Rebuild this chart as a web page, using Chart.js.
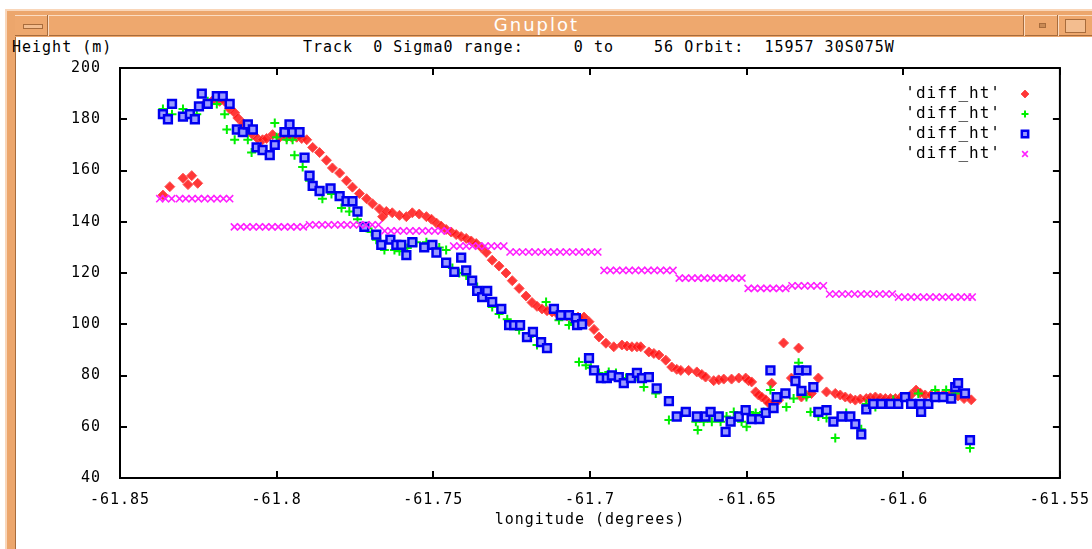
<!DOCTYPE html>
<html lang="en">
<head>
<meta charset="UTF-8" />
<title>Gnuplot</title>
<script src="https://cdn.jsdelivr.net/npm/chart.js"></script>
<style>
  body { margin: 0; width: 1092px; height: 549px; overflow: hidden; position: relative; background: #fff; font-family: "DejaVu Sans Mono", monospace; }
  .frame { position: absolute; left: 5px; top: 9px; width: 1100px; height: 560px; background: #eca66c; border-top: 2px solid #f9d6b9; border-left: 2px solid #f9d6b9; box-sizing: border-box; }
  .titlebar { position: absolute; left: 15px; top: 15px; width: 1100px; height: 21px; background: #eea86e; border-top: 1px solid #fbdcc2; border-bottom: 1px solid #a86c3c; box-sizing: border-box; }
  .title { position: absolute; left: 48px; width: 977px; top: 14px; height: 22px; line-height: 22px; text-align: center; color: #fff; font-family: "DejaVu Sans", sans-serif; font-size: 18px; letter-spacing: 2px; }
  .sep { position: absolute; top: 15px; height: 21px; width: 1px; background: #fbdcc2; border-left: 1px solid #a86c3c; }
  .btn { position: absolute; border: 1px solid #a86c3c; background: #f3bd8f; box-sizing: border-box; }
  .content { position: absolute; left: 15px; top: 37px; width: 1100px; height: 520px; background: #fff; border-left: 1px solid #a86c3c; box-sizing: border-box; }
  .hdr { position: absolute; top: 39px; font-size: 15px; letter-spacing: 1px; white-space: pre; line-height: 16px; color: #000; }
  canvas { position: absolute; left: 0; top: 0; }
</style>
</head>
<body>
  <div class="frame"></div>
  <div class="titlebar"></div>
  <div class="sep" style="left:47px"></div>
  <div class="sep" style="left:1023px"></div>
  <div class="sep" style="left:1057px"></div>
  <div class="btn" style="left:23px; top:24px; width:20px; height:5px;"></div>
  <div class="btn" style="left:1039px; top:23px; width:7px; height:5px; background:#c98a55;"></div>
  <div class="btn" style="left:1065px; top:19px; width:21px; height:14px;"></div>
  <div class="title">Gnuplot</div>
  <div class="content"></div>
  <div class="hdr" style="left:12px">Height (m)</div>
  <div class="hdr" style="left:303px">Track  0 Sigma0 range:     0 to    56 Orbit:  15957 30S075W</div>

  <canvas id="plot" width="1092" height="549"></canvas>

  <script>
    const seriesLabels = ["'diff_ht'", "'diff_ht'", "'diff_ht'", "'diff_ht'"];
    const xTicks = [-61.85, -61.8, -61.75, -61.7, -61.65, -61.6, -61.55];
    const yTicks = [40, 60, 80, 100, 120, 140, 160, 180, 200];

    // red diamonds
    const redLon = [-61.8363, -61.8341, -61.8299, -61.8283, -61.8271, -61.8252, -61.8229, -61.8207, -61.8182, -61.8166,
      -61.8150, -61.8134, -61.8124, -61.8108, -61.8092, -61.8076, -61.8061, -61.8045, -61.8032, -61.8013,
      -61.7990, -61.7968, -61.7952, -61.7936, -61.7920, -61.7904, -61.7885, -61.7863, -61.7841, -61.7822,
      -61.7799, -61.7777, -61.7758, -61.7736, -61.7713, -61.7694, -61.7672, -61.7662, -61.7650, -61.7631,
      -61.7608, -61.7586, -61.7567, -61.7545, -61.7522, -61.7506, -61.7490, -61.7475, -61.7459, -61.7443,
      -61.7427, -61.7411, -61.7395, -61.7379, -61.7363, -61.7347, -61.7331, -61.7312, -61.7290, -61.7268,
      -61.7248, -61.7226, -61.7204, -61.7185, -61.7169, -61.7153, -61.7137, -61.7121, -61.7105, -61.7089,
      -61.7073, -61.7057, -61.7038, -61.7019, -61.7003, -61.6987, -61.6971, -61.6949, -61.6924, -61.6898,
      -61.6882, -61.6866, -61.6850, -61.6838, -61.6812, -61.6796, -61.6780, -61.6758, -61.6739, -61.6723,
      -61.6710, -61.6685, -61.6659, -61.6643, -61.6631, -61.6605, -61.6589, -61.6573, -61.6548, -61.6525,
      -61.6503, -61.6494, -61.6484, -61.6471, -61.6462, -61.6452, -61.6439, -61.6430, -61.6420, -61.6411,
      -61.6398, -61.6382, -61.6357, -61.6334, -61.6325, -61.6309, -61.6293, -61.6271, -61.6245, -61.6217,
      -61.6201, -61.6185, -61.6169, -61.6153, -61.6137, -61.6118, -61.6105, -61.6089, -61.6073, -61.6057,
      -61.6041, -61.6025, -61.6010, -61.5994, -61.5975, -61.5959, -61.5946, -61.5930, -61.5911, -61.5889,
      -61.5869, -61.5847, -61.5825, -61.5806, -61.5783];
    const redHt = [150.4, 153.7, 157.0, 154.5, 158.0, 155.0, 186.0, 187.0, 187.0, 187.0,
      184.0, 182.5, 180.5, 178.5, 176.5, 174.0, 172.5, 172.0, 172.5, 174.0,
      173.0, 173.0, 173.0, 173.0, 172.5, 172.0, 169.0, 167.0, 164.0, 161.0,
      159.0, 156.0, 153.5, 151.0, 149.0, 147.0, 145.0, 142.0, 144.0, 143.5,
      142.5, 142.0, 143.5, 143.0, 142.0, 141.0, 139.5, 138.3, 137.0, 136.0,
      135.0, 134.2, 133.5, 132.5, 131.5, 130.0, 128.0, 125.0, 122.7, 120.0,
      117.0, 114.0, 111.0, 108.5, 107.0, 106.0, 105.3, 104.8, 104.2, 103.6,
      103.2, 102.6, 102.8, 102.8, 101.0, 98.0, 95.0, 92.6, 91.2, 91.9,
      91.5, 91.2, 91.2, 91.2, 89.2, 88.6, 88.0, 86.0, 83.3, 82.4,
      82.0, 82.0, 81.4, 80.4, 79.4, 78.0, 78.3, 78.6, 78.6, 79.0,
      79.0, 78.0, 77.5, 73.6, 72.4, 71.6, 70.5, 69.3, 77.0, 69.7,
      70.4, 92.7, 79.0, 90.7, 71.6, 72.4, 73.0, 79.0, 73.6, 73.0,
      72.4, 71.6, 71.0, 70.4, 70.8, 71.0, 71.3, 71.6, 71.2, 71.0,
      71.0, 71.0, 71.3, 71.6, 72.5, 74.3, 73.2, 72.4, 72.4, 72.4,
      72.8, 73.0, 72.0, 71.0, 70.5];

    // green pluses
    const greenLon = [-61.8363, -61.8334, -61.8299, -61.8255, -61.8220, -61.8191, -61.8166, -61.8159, -61.8134, -61.8092,
      -61.8080, -61.8006, -61.8000, -61.7968, -61.7949, -61.7943, -61.7917, -61.7895, -61.7854, -61.7825,
      -61.7793, -61.7768, -61.7742, -61.7713, -61.7697, -61.7682, -61.7669, -61.7656, -61.7624, -61.7608,
      -61.7583, -61.7554, -61.7522, -61.7481, -61.7459, -61.7439, -61.7417, -61.7395, -61.7360, -61.7338,
      -61.7312, -61.7290, -61.7264, -61.7226, -61.7194, -61.7169, -61.7140, -61.7099, -61.7067, -61.7051,
      -61.7035, -61.7013, -61.6997, -61.6971, -61.6940, -61.6917, -61.6885, -61.6854, -61.6828, -61.6790,
      -61.6748, -61.6707, -61.6662, -61.6656, -61.6637, -61.6611, -61.6583, -61.6564, -61.6541, -61.6516,
      -61.6500, -61.6490, -61.6471, -61.6446, -61.6424, -61.6389, -61.6373, -61.6350, -61.6334, -61.6309,
      -61.6296, -61.6271, -61.6245, -61.6217, -61.6182, -61.6134, -61.6118, -61.6089, -61.6032, -61.5952,
      -61.5898, -61.5863, -61.5834, -61.5787];
    const greenHt = [184, 182, 184, 182, 187, 186, 182, 176, 172, 172,
      167, 178.5, 173, 172, 172, 166, 161.4, 156, 149, 150.8,
      145.4, 144, 141, 137.6, 136, 133, 131.7, 129, 129, 128.5,
      129.8, 132, 132, 130, 129, 122, 120, 119, 114.5, 111.4,
      106.7, 104, 102, 97.8, 95, 91.9, 108.7, 101.6, 99.7, 100.5,
      85.3, 84, 83, 81, 81.4, 81, 79, 79.4, 75.5, 73,
      62.6, 65.4, 62, 58.7, 62, 62, 62, 64, 65.8, 62,
      60, 65.8, 65.4, 65.8, 74.3, 72.4, 67.7, 71, 85, 71.6,
      65.8, 64, 63.4, 55.6, 65.4, 59, 68.9, 67.7, 70.4, 73,
      74.3, 74.3, 73, 51.7];

    // blue squares
    const blueLon = [-61.8363, -61.8347, -61.8334, -61.8299, -61.8277, -61.8261, -61.8248, -61.8239, -61.8220, -61.8191,
      -61.8172, -61.8150, -61.8127, -61.8108, -61.8092, -61.8076, -61.8064, -61.8045, -61.8022, -61.8006,
      -61.7975, -61.7959, -61.7949, -61.7927, -61.7911, -61.7895, -61.7885, -61.7863, -61.7828, -61.7799,
      -61.7777, -61.7758, -61.7742, -61.7720, -61.7682, -61.7666, -61.7637, -61.7618, -61.7602, -61.7586,
      -61.7567, -61.7529, -61.7503, -61.7490, -61.7459, -61.7433, -61.7411, -61.7395, -61.7376, -61.7360,
      -61.7344, -61.7328, -61.7312, -61.7283, -61.7258, -61.7242, -61.7223, -61.7201, -61.7182, -61.7156,
      -61.7137, -61.7115, -61.7093, -61.7067, -61.7045, -61.7041, -61.7025, -61.7003, -61.6987, -61.6965,
      -61.6946, -61.6930, -61.6908, -61.6892, -61.6869, -61.6850, -61.6834, -61.6812, -61.6787, -61.6748,
      -61.6723, -61.6694, -61.6659, -61.6631, -61.6615, -61.6589, -61.6567, -61.6551, -61.6525, -61.6503,
      -61.6484, -61.6459, -61.6439, -61.6424, -61.6414, -61.6404, -61.6376, -61.6344, -61.6334, -61.6325,
      -61.6309, -61.6287, -61.6271, -61.6245, -61.6223, -61.6197, -61.6169, -61.6153, -61.6134, -61.6118,
      -61.6096, -61.6070, -61.6041, -61.6016, -61.5994, -61.5975, -61.5946, -61.5943, -61.5920, -61.5898,
      -61.5873, -61.5847, -61.5834, -61.5825, -61.5803, -61.5787];
    const blueHt = [182, 180, 186, 181, 182, 180, 185, 190, 186, 189,
      189, 186, 176, 175, 178, 176, 169, 168, 166, 170,
      175, 178, 175, 175, 165, 158, 154, 152, 153, 150,
      148, 148, 144, 138, 135, 131, 133, 131, 131, 127,
      132, 130, 131, 128, 124, 120.4, 126, 121, 117, 113,
      110.6, 113, 108.7, 106, 99.7, 99.7, 99.7, 95, 97, 93,
      90.7, 106, 103.6, 103.6, 102.4, 99.7, 100, 86.8, 82, 79,
      79, 80, 79.4, 77, 79, 81, 79, 79.4, 75, 70,
      64, 65.8, 64, 64, 65.8, 64, 58, 62, 64, 66.5,
      63, 63, 65.4, 82, 67.3, 71.6, 73, 77.8, 82, 74,
      82, 75.5, 65.8, 66.5, 62, 64, 64, 61, 57, 66.8,
      68.9, 68.9, 68.9, 68.9, 71.6, 68.9, 68.9, 65.8, 68.9, 71.6,
      71.6, 71, 75.5, 77, 73, 54.8];

    // magenta crosses
    const magLon = [-61.8373, -61.8355, -61.8335, -61.8310, -61.8290, -61.8270, -61.8250, -61.8230, -61.8210, -61.8190, -61.8170, -61.8150,
      -61.8135, -61.8115, -61.8095, -61.8075, -61.8055, -61.8035, -61.8015, -61.7995, -61.7975, -61.7955, -61.7935, -61.7915,
      -61.7895, -61.7875, -61.7855, -61.7835, -61.7815, -61.7795, -61.7775, -61.7755, -61.7735, -61.7715, -61.7695, -61.7675,
      -61.7655, -61.7635, -61.7615, -61.7595, -61.7575, -61.7555, -61.7535, -61.7515, -61.7495, -61.7475, -61.7455,
      -61.7435, -61.7415, -61.7395, -61.7375, -61.7355, -61.7335, -61.7315, -61.7295, -61.7275,
      -61.7255, -61.7235, -61.7215, -61.7195, -61.7175, -61.7155, -61.7135, -61.7115, -61.7095, -61.7075, -61.7055, -61.7035, -61.7015, -61.6995, -61.6975,
      -61.6955, -61.6935, -61.6915, -61.6895, -61.6875, -61.6855, -61.6835, -61.6815, -61.6795, -61.6775, -61.6755, -61.6735,
      -61.6715, -61.6695, -61.6675, -61.6655, -61.6635, -61.6615, -61.6595, -61.6575, -61.6555, -61.6535, -61.6515,
      -61.6495, -61.6475, -61.6455, -61.6435, -61.6415, -61.6395, -61.6375,
      -61.6355, -61.6335, -61.6315, -61.6295, -61.6275, -61.6255,
      -61.6235, -61.6215, -61.6195, -61.6175, -61.6155, -61.6135, -61.6115, -61.6095, -61.6075, -61.6055, -61.6035,
      -61.6015, -61.5995, -61.5975, -61.5955, -61.5935, -61.5915, -61.5895, -61.5875, -61.5855, -61.5835, -61.5815, -61.5795, -61.5780];
    const magHt = [149, 149, 149, 149, 149, 149, 149, 149, 149, 149, 149, 149,
      138, 138, 138, 138, 138, 138, 138, 138, 138, 138, 138, 138,
      138.8, 138.8, 138.8, 138.8, 138.8, 138.8, 138.8, 138.8, 138.8, 138.8, 138.8, 138.8,
      136.4, 136.4, 136.4, 136.4, 136.4, 136.4, 136.4, 136.4, 136.4, 136.4, 136.4,
      130.5, 130.5, 130.5, 130.5, 130.5, 130.5, 130.5, 130.5, 130.5,
      128.2, 128.2, 128.2, 128.2, 128.2, 128.2, 128.2, 128.2, 128.2, 128.2, 128.2, 128.2, 128.2, 128.2, 128.2,
      121, 121, 121, 121, 121, 121, 121, 121, 121, 121, 121, 121,
      118, 118, 118, 118, 118, 118, 118, 118, 118, 118, 118,
      114, 114, 114, 114, 114, 114, 114,
      115, 115, 115, 115, 115, 115,
      111.8, 111.8, 111.8, 111.8, 111.8, 111.8, 111.8, 111.8, 111.8, 111.8, 111.8,
      110.6, 110.6, 110.6, 110.6, 110.6, 110.6, 110.6, 110.6, 110.6, 110.6, 110.6, 110.6, 110.6];

    const pts = (xs, ys) => xs.map((x, i) => ({ x: x, y: ys[i] }));

    const styles = [
      { pointStyle: 'rectRot', radius: 5, borderWidth: 1, fill: 'rgba(255,20,20,0.85)', stroke: '#ff5050' },
      { pointStyle: 'cross', radius: 4.5, borderWidth: 2, fill: '#00f000', stroke: '#00f000' },
      { pointStyle: 'rect', radius: 5.5, borderWidth: 2.5, fill: '#9a9aff', stroke: '#0000f0' },
      { pointStyle: 'crossRot', radius: 5, borderWidth: 1.6, fill: '#ff00ff', stroke: '#ff20ff' }
    ];
    const seriesData = [pts(redLon, redHt), pts(greenLon, greenHt), pts(blueLon, blueHt), pts(magLon, magHt)];

    // gnuplot-style frame, inward ticks, and key in the top right corner
    const gnuFrame = {
      id: 'gnuFrame',
      beforeDraw(chart) { chart.ctx.letterSpacing = '1px'; },
      afterDraw(chart) {
        const { ctx, chartArea: a, scales } = chart;
        ctx.save();
        ctx.strokeStyle = '#000';
        ctx.lineWidth = 2;
        ctx.strokeRect(a.left, a.top, a.right - a.left, a.bottom - a.top);
        ctx.beginPath();
        yTicks.forEach(v => {
          const py = Math.round(scales.y.getPixelForValue(v));
          ctx.moveTo(a.left, py); ctx.lineTo(a.left + 7, py);
          ctx.moveTo(a.right, py); ctx.lineTo(a.right - 7, py);
        });
        xTicks.forEach(v => {
          const px = Math.round(scales.x.getPixelForValue(v));
          ctx.moveTo(px, a.bottom); ctx.lineTo(px, a.bottom - 7);
          ctx.moveTo(px, a.top); ctx.lineTo(px, a.top + 7);
        });
        ctx.stroke();

        ctx.font = '16px "DejaVu Sans Mono"';
        ctx.textAlign = 'right';
        ctx.textBaseline = 'middle';
        seriesLabels.forEach((lbl, i) => {
          const y = 94 + i * 20;
          ctx.fillStyle = '#000';
          ctx.fillText(lbl, 1001, y);
          const s = styles[i];
          ctx.fillStyle = s.fill;
          ctx.strokeStyle = s.stroke;
          ctx.lineWidth = s.borderWidth;
          Chart.helpers.drawPoint(ctx, { pointStyle: s.pointStyle, radius: s.radius - 1, borderWidth: s.borderWidth, rotation: 0 }, 1025, y);
        });
        ctx.restore();
      }
    };

    Chart.defaults.font.family = '"DejaVu Sans Mono", monospace';
    Chart.defaults.font.size = 15;
    Chart.defaults.color = '#000';

    new Chart(document.getElementById('plot'), {
      type: 'scatter',
      data: {
        datasets: seriesData.map((d, i) => ({
          label: seriesLabels[i],
          data: d,
          order: 4 - i,
          pointStyle: styles[i].pointStyle,
          pointRadius: styles[i].radius,
          pointBorderWidth: styles[i].borderWidth,
          pointBackgroundColor: styles[i].fill,
          pointBorderColor: styles[i].stroke
        }))
      },
      options: {
        responsive: false,
        animation: false,
        events: [],
        layout: { padding: { left: 0, top: 68, right: 29, bottom: 0 } },
        plugins: { legend: { display: false }, tooltip: { enabled: false } },
        scales: {
          x: {
            type: 'linear',
            min: -61.85,
            max: -61.55,
            afterFit: s => { s.height = 71; },
            afterBuildTicks: s => { s.ticks = xTicks.map(v => ({ value: v })); },
            grid: { display: false },
            border: { display: false },
            ticks: { padding: 5, maxRotation: 0, autoSkip: false, callback: v => String(+v.toFixed(2)) },
            title: { display: true, text: 'longitude (degrees)', padding: { top: 0, bottom: 20 } }
          },
          y: {
            min: 40,
            max: 200,
            afterFit: s => { s.width = 120; },
            afterBuildTicks: s => { s.ticks = yTicks.map(v => ({ value: v })); },
            grid: { display: false },
            border: { display: false },
            ticks: { padding: 11, callback: v => String(v) }
          }
        }
      },
      plugins: [gnuFrame]
    });
  </script>
</body>
</html>
